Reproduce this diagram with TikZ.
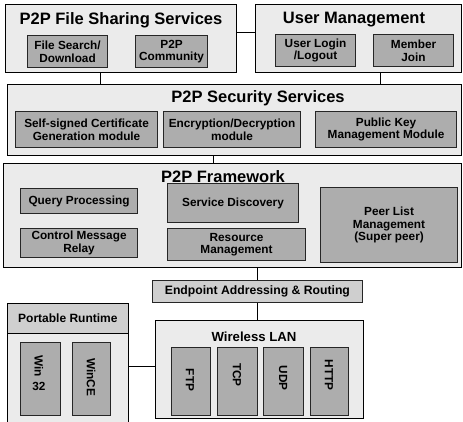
\documentclass[tikz,border=0pt]{standalone}
\usepackage{fontspec}
\setmainfont{Liberation Sans}
\definecolor{outerfill}{HTML}{EBEBEB}
\definecolor{innerfill}{HTML}{ADADAD}
\definecolor{midfill}{HTML}{CFCFCF}
\begin{document}
\begin{tikzpicture}[x=1pt,y=-1pt,
  outerbox/.style={draw=black,line width=0.8pt,fill=outerfill,anchor=north west,inner sep=0pt},
  innerbox/.style={draw=black!85,line width=1.1pt,fill=innerfill,anchor=north west,inner sep=0pt},
  midbox/.style={draw=black!85,line width=0.8pt,fill=midfill,anchor=north west,inner sep=0pt},
  bigtitle/.style={font=\fontsize{16.5}{18}\selectfont\bfseries,inner sep=0pt},
  midtitle/.style={font=\fontsize{13.2}{15}\selectfont\bfseries,inner sep=0pt},
  lbl/.style={font=\fontsize{11.8}{12.6}\selectfont\bfseries,align=center,inner sep=0pt},
  conn/.style={draw=black,line width=1pt}]
\useasboundingbox (0,0) rectangle (463,422);
\clip (0,0) rectangle (463,422);
% top row
\node[outerbox,minimum width=231pt,minimum height=68pt] (fs) at (5,4) {};
\node[bigtitle] (fst) at (121,20) {P2P File Sharing Services};
\node[innerbox,minimum width=80pt,minimum height=32pt] (fsd) at (27,35) {};
\node[lbl] (fsdt) at (fsd.center) {File Search/\\Download};
\node[innerbox,minimum width=72pt,minimum height=32pt] (pc) at (135,35) {};
\node[lbl] (pct) at (pc.center) {P2P\\Community};
\node[outerbox,minimum width=206pt,minimum height=68pt] (um) at (255,4) {};
\node[bigtitle] (umt) at (354,20) {User Management};
\node[innerbox,minimum width=80pt,minimum height=32pt] (ul) at (275,34) {};
\node[lbl] (ult) at (ul.center) {User Login\\/Logout};
\node[innerbox,minimum width=80pt,minimum height=32pt] (mj) at (373,34) {};
\node[lbl] (mjt) at (mj.center) {Member\\Join};
% security
\node[outerbox,minimum width=454pt,minimum height=71pt] (sec) at (7,84) {};
\node[bigtitle] (sect) at (258,98) {P2P Security Services};
\node[innerbox,minimum width=142pt,minimum height=36pt] (ssc) at (15,111) {};
\node[lbl] (ssct) at (ssc.center) {Self-signed Certificate\\Generation module};
\node[innerbox,minimum width=137pt,minimum height=36pt] (enc) at (163,111) {};
\node[lbl] (enct) at (enc.center) {Encryption/Decryption\\module};
\node[innerbox,minimum width=141pt,minimum height=36pt] (pk) at (315,111) {};
\node[lbl] (pkt) at (pk.center) {Public Key\\Management Module};
% framework
\node[outerbox,minimum width=458pt,minimum height=104pt] (fw) at (3,163) {};
\node[bigtitle] (fwt) at (223,177) {P2P Framework};
\node[innerbox,minimum width=117pt,minimum height=25pt] (qp) at (20,188) {};
\node[lbl] (qpt) at (qp.center) {Query Processing};
\node[innerbox,minimum width=131pt,minimum height=39pt] (sd) at (167,183) {};
\node[lbl] (sdt) at (sd.center) {Service Discovery};
\node[innerbox,minimum width=117pt,minimum height=29pt] (cm) at (20,228) {};
\node[lbl] (cmt) at (cm.center) {Control Message\\Relay};
\node[innerbox,minimum width=138pt,minimum height=32pt] (rm) at (167,228) {};
\node[lbl] (rmt) at (rm.center) {Resource\\Management};
\node[innerbox,minimum width=137pt,minimum height=75pt] (pl) at (320,187) {};
\node[lbl] (plt) at (pl.center) {Peer List\\Management\\(Super peer)};
% endpoint
\node[midbox,minimum width=210pt,minimum height=22pt] (ep) at (152,280) {};
\node[lbl,font=\fontsize{12.2}{13}\selectfont\bfseries] (ept) at (ep.center) {Endpoint Addressing \& Routing};
% wireless LAN
\node[outerbox,minimum width=208pt,minimum height=98pt] (wl) at (155,320) {};
\node[midtitle] (wlt) at (254,337) {Wireless LAN};
\node[innerbox,minimum width=39pt,minimum height=68pt] (ftp) at (171,347) {};
\node[lbl,rotate=-90] (ftpt) at (190,380) {FTP};
\node[innerbox,minimum width=40pt,minimum height=68pt] (tcp) at (217,347) {};
\node[lbl,rotate=-90] (tcpt) at (237,375) {TCP};
\node[innerbox,minimum width=40pt,minimum height=68pt] (udp) at (263,347) {};
\node[lbl,rotate=-90] (udpt) at (283,378) {UDP};
\node[innerbox,minimum width=38pt,minimum height=68pt] (http) at (310,347) {};
\node[lbl,rotate=-90] (httpt) at (329,375) {HTTP};
% portable runtime
\node[outerbox,minimum width=121pt,minimum height=127pt] (pr) at (7,303) {};
\node[midbox,draw=black,minimum width=121pt,minimum height=30pt] (prh) at (7,303) {};
\node[lbl,font=\fontsize{12}{13}\selectfont\bfseries] (prt) at (prh.center) {Portable Runtime};
\node[innerbox,minimum width=40pt,minimum height=73pt] (w32) at (20,342) {};
\node[lbl,rotate=-90] (w32a) at (39,366) {Win};
\node[lbl] (w32b) at (39,386) {32};
\node[innerbox,minimum width=38pt,minimum height=73pt] (wce) at (72,342) {};
\node[lbl,rotate=-90] (wcet) at (91,377) {WinCE};
% connectors
\draw[conn] ([yshift=6pt]fs.east) -- ([yshift=6pt]um.west);
\draw[conn] ([xshift=-20pt]fs.south) -- ([xshift=-20pt]fs.south |- sec.north);
\draw[conn] ([xshift=22pt]um.south) -- ([xshift=22pt]um.south |- sec.north);
\draw[conn] ([xshift=-21pt]sec.south) -- ([xshift=-21pt]sec.south |- fw.north);
\draw[conn] (ep.north) -- (ep.north |- fw.south);
\draw[conn] (ep.south) -- (ep.south |- wl.north);
\draw[conn] (pr.east) -- (pr.east -| wl.west);
\end{tikzpicture}
\end{document}
